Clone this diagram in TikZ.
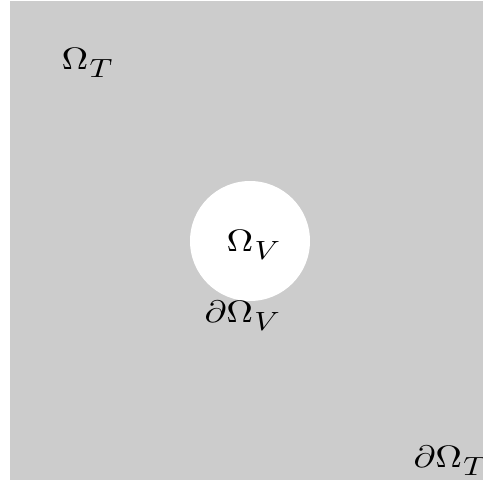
\documentclass[tikz,border=0pt]{standalone}
\usepackage{amsmath}
\newcommand{\mysub}[1]{\hspace{0.3pt}\raisebox{-2.7pt}{\scalebox{0.85}{$#1$}}}
\begin{document}
\begin{tikzpicture}[x=1pt,y=-1pt,
  lbl/.style={inner sep=0pt,anchor=base west,xscale=3.7,yscale=3.1}]
\useasboundingbox (0,0) rectangle (483,483);
\fill[white] (0,0) rectangle (483,483);
\fill[black!20] (9.5,0.5) rectangle (483,480);
\fill[white] (250,241) circle (60);
\node[lbl] (OT) at (61,69) {$\Omega$\mysub{T}};
\node[lbl] (OV) at (226,251) {$\Omega$\mysub{V}};
\node[lbl] (dOV) at (204,322) {$\partial\Omega$\mysub{V}};
\node[lbl] (dOT) at (413,467) {$\partial\Omega$\mysub{T}};
\end{tikzpicture}
\end{document}
